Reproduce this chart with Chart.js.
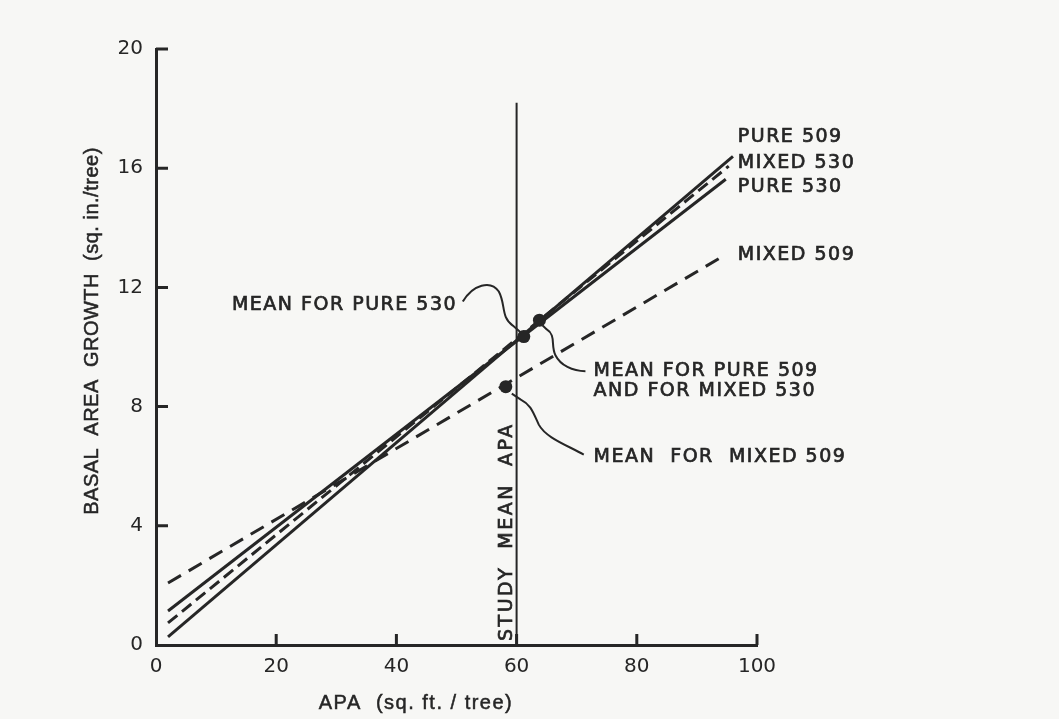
<!DOCTYPE html>
<html>
<head>
<meta charset="utf-8">
<script src="https://cdn.jsdelivr.net/npm/chart.js@4.4.0/dist/chart.umd.min.js"></script>
<style>
  html, body { margin: 0; padding: 0; background: #f7f7f5; }
  canvas { display: block; }
</style>
</head>
<body>
<canvas id="apaChart" width="1059" height="719"></canvas>
<script>
// fitted lines: APA (sq. ft./tree) -> basal area growth (sq. in./tree)
const lineNames = ["PURE 509", "MIXED 530", "PURE 530", "MIXED 509"];
const startApa = [2, 2, 2, 2];
const startGrowth = [0.27, 0.74, 1.14, 2.08];
const endApa = [96, 95.3, 94.8, 94.8];
const endGrowth = [16.4, 16.07, 15.63, 13.1];
const isDashed = [false, true, false, true];

// means
const meanApa = [61.2, 63.8, 58.2];
const meanGrowth = [10.35, 10.9, 8.67];
const meanLabels = [["MEAN FOR PURE 530"], ["MEAN FOR PURE 509", "AND FOR MIXED 530"], ["MEAN  FOR  MIXED 509"]];

const studyMeanApa = 60;
const studyLineTop = 18.2;

const xTicks = [0, 20, 40, 60, 80, 100];
const yTicks = [0, 4, 8, 12, 16, 20];

const INK = "#262626";
const LETTER = "DejaVu Sans";

const datasets = [];
datasets.push({
  label: "means",
  data: meanApa.map((x, i) => ({ x: x, y: meanGrowth[i] })),
  showLine: false,
  pointRadius: 6.5,
  pointBackgroundColor: INK,
  pointBorderWidth: 0,
  order: 0
});
lineNames.forEach((name, i) => {
  datasets.push({
    label: name,
    data: [{ x: startApa[i], y: startGrowth[i] }, { x: endApa[i], y: endGrowth[i] }],
    borderColor: INK,
    borderWidth: 3,
    borderDash: isDashed[i] ? (i === 1 ? [12, 6] : [15, 9]) : [],
    pointRadius: 0,
    fill: false,
    order: 1
  });
});
datasets.push({
  label: "study mean APA",
  data: [{ x: studyMeanApa, y: 0 }, { x: studyMeanApa, y: studyLineTop }],
  borderColor: INK,
  borderWidth: 2,
  pointRadius: 0,
  order: 2
});

// lettering-guide text: a bit wider and heavier than the plain font
function spacedText(ctx, text, x, y, spacing) {
  ctx.letterSpacing = spacing + "px";
  ctx.fillText(text, x, y);
  ctx.strokeText(text, x, y);
  ctx.letterSpacing = "0px";
}

const paper = {
  id: "paper",
  beforeDraw(chart) {
    const c = chart.ctx;
    c.save();
    c.fillStyle = "#f7f7f5";
    c.fillRect(0, 0, chart.width, chart.height);
    c.restore();
  }
};

// tick marks point into the plot
const inwardTicks = {
  id: "inwardTicks",
  afterDraw(chart) {
    const c = chart.ctx, xs = chart.scales.x, ys = chart.scales.y;
    c.save();
    c.strokeStyle = INK;
    c.lineWidth = 3;
    c.beginPath();
    xTicks.slice(1).forEach(v => {
      const px = xs.getPixelForValue(v);
      c.moveTo(px, ys.bottom);
      c.lineTo(px, ys.bottom - 11);
    });
    yTicks.slice(1).forEach(v => {
      const py = ys.getPixelForValue(v);
      c.moveTo(xs.left, py);
      c.lineTo(xs.left + 12, py);
    });
    c.stroke();
    c.restore();
  }
};

// leader curves, px offsets from each mean point
const leaderPaths = [
  [[-61, -35], [-51, -52], [-33, -57], [-25, -45], [-18, -32], [-23, -19], [-11, -11], [-3, -4]],
  [[46, 51], [33, 51], [21, 45], [16, 35], [11, 25], [17, 15], [7, 9], [3, 5]],
  [[78, 68], [60, 58], [40, 51], [33, 38], [27, 25], [25, 18], [15, 13], [6, 7]]
];
const meanLabelAt = [[50.1, 11.4, "right"], [72.8, 9.18, "left"], [72.8, 6.32, "left"]];
const endLabelShift = [-19, -3, 8, 0];

const notes = {
  id: "notes",
  afterDraw(chart) {
    const c = chart.ctx, xs = chart.scales.x, ys = chart.scales.y;
    c.save();
    c.fillStyle = INK;
    c.strokeStyle = INK;
    c.lineWidth = 0.7;

    // line names at the right ends
    c.font = "19px '" + LETTER + "'";
    c.textBaseline = "middle";
    c.textAlign = "left";
    lineNames.forEach((name, i) => {
      spacedText(c, name, xs.getPixelForValue(96.8), ys.getPixelForValue(endGrowth[i]) + endLabelShift[i], 1.5);
    });

    // mean notes
    meanLabels.forEach((lines, i) => {
      const [lx, ly, align] = meanLabelAt[i];
      c.textAlign = align;
      lines.forEach((t, k) => {
        spacedText(c, t, xs.getPixelForValue(lx), ys.getPixelForValue(ly) + k * 20, 1.5);
      });
    });

    // study mean APA, along the vertical line
    c.save();
    c.translate(xs.getPixelForValue(studyMeanApa) - 5, ys.bottom - 4);
    c.rotate(-Math.PI / 2);
    c.textAlign = "left";
    c.textBaseline = "alphabetic";
    spacedText(c, "STUDY  MEAN  APA", 0, 0, 2.5);
    c.restore();

    // leaders
    c.lineWidth = 2;
    leaderPaths.forEach((p, i) => {
      const mx = xs.getPixelForValue(meanApa[i]);
      const my = ys.getPixelForValue(meanGrowth[i]);
      c.beginPath();
      c.moveTo(mx + p[0][0], my + p[0][1]);
      c.bezierCurveTo(mx + p[1][0], my + p[1][1], mx + p[2][0], my + p[2][1], mx + p[3][0], my + p[3][1]);
      c.bezierCurveTo(mx + p[4][0], my + p[4][1], mx + p[5][0], my + p[5][1], mx + p[6][0], my + p[6][1]);
      c.lineTo(mx + p[7][0], my + p[7][1]);
      c.stroke();
    });

    // axis titles
    c.lineWidth = 0.5;
    c.font = "20px 'Liberation Sans'";
    c.textAlign = "center";
    c.textBaseline = "middle";
    spacedText(c, "APA  (sq. ft. / tree)", 416, 703, 1.5);
    c.save();
    c.translate(92, 331);
    c.rotate(-Math.PI / 2);
    spacedText(c, "BASAL  AREA  GROWTH  (sq. in./tree)", 0, 0, 0.5);
    c.restore();

    c.restore();
  }
};

new Chart(document.getElementById("apaChart"), {
  type: "line",
  data: { datasets: datasets },
  options: {
    responsive: false,
    animation: false,
    layout: { padding: { top: 49, right: 302, left: 0, bottom: 0 } },
    scales: {
      x: {
        type: "linear",
        min: 0,
        max: 100,
        afterBuildTicks: s => { s.ticks = xTicks.map(v => ({ value: v })); },
        afterFit: s => { s.height = 74; },
        ticks: { color: INK, font: { family: LETTER, size: 20 }, padding: 10, maxRotation: 0 },
        grid: { display: false, drawTicks: false },
        border: { display: true, width: 3, color: INK }
      },
      y: {
        type: "linear",
        min: 0,
        max: 20,
        afterBuildTicks: s => { s.ticks = yTicks.map(v => ({ value: v })); },
        afterFit: s => { s.width = 156; },
        ticks: { color: INK, font: { family: LETTER, size: 20 }, padding: 13 },
        grid: { display: false, drawTicks: false },
        border: { display: true, width: 3, color: INK }
      }
    },
    plugins: {
      legend: { display: false },
      tooltip: { enabled: false }
    }
  },
  plugins: [paper, inwardTicks, notes]
});
</script>
</body>
</html>
